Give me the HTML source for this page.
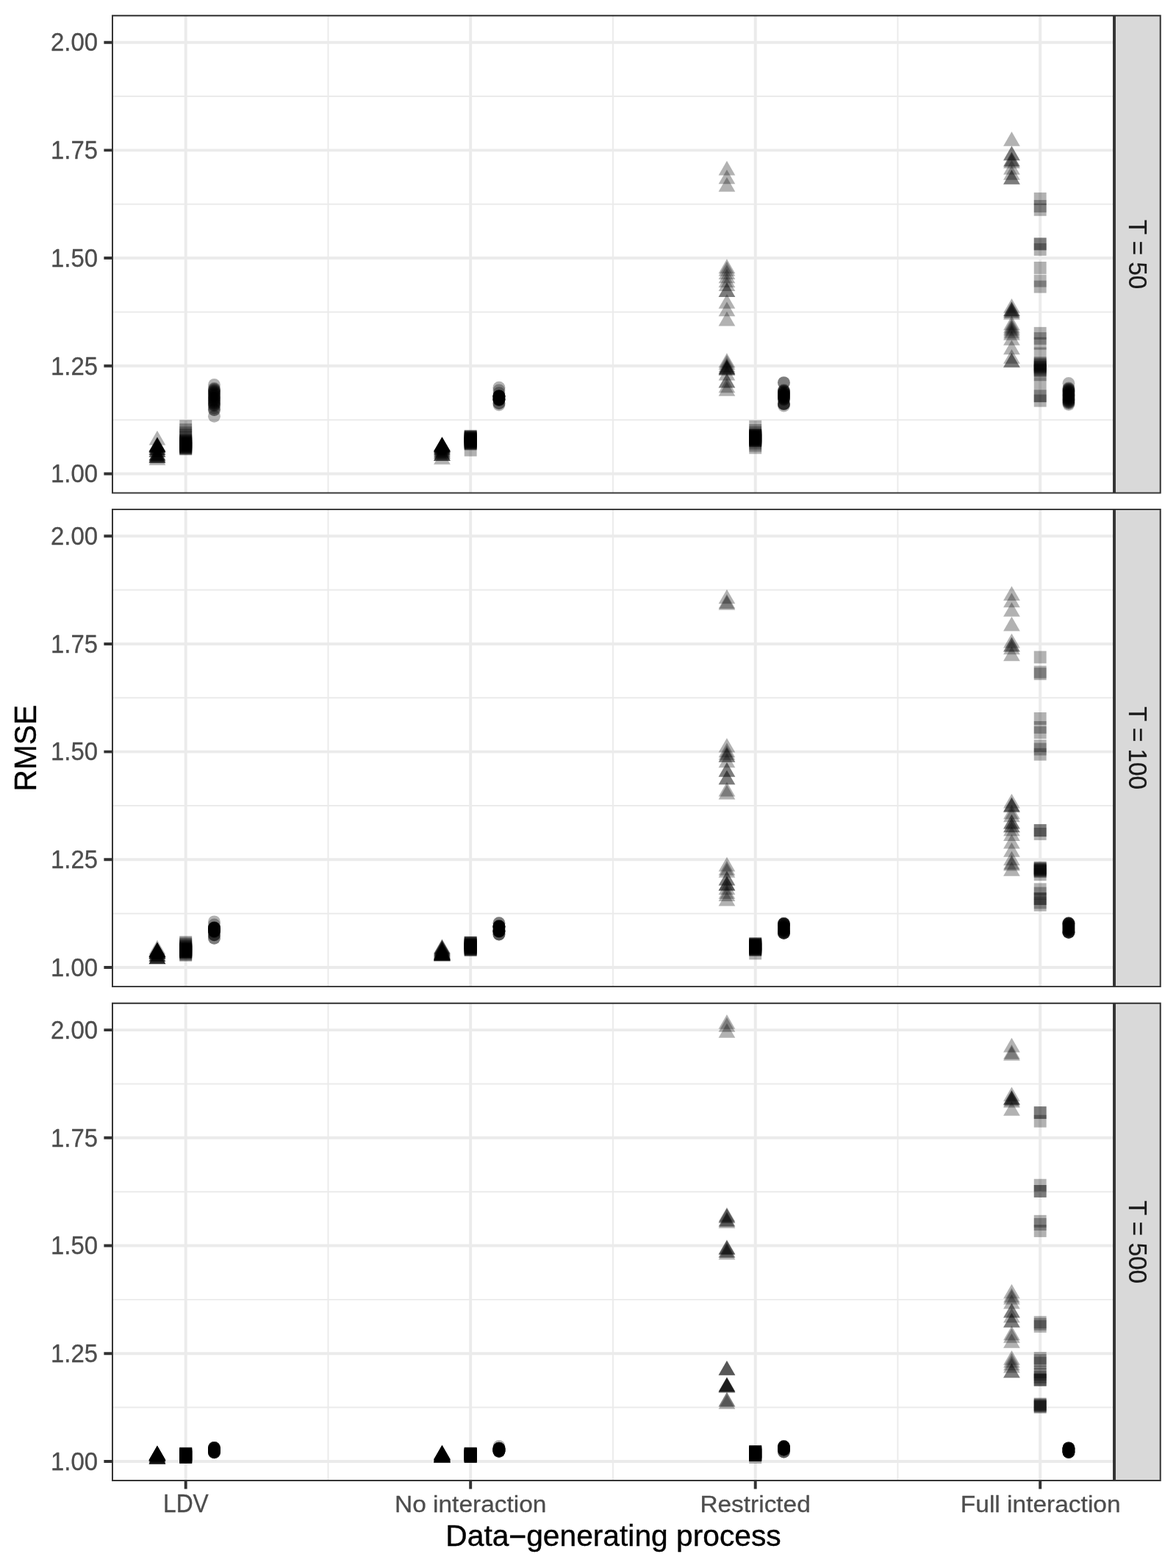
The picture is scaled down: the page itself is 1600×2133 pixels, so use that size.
<!DOCTYPE html>
<html lang="en"><head><meta charset="utf-8"><title>RMSE</title>
<style>
html,body{margin:0;padding:0;background:#fff}
body{width:1600px;height:2133px;overflow:hidden}
svg{display:block}
text{font-family:"Liberation Sans",Arial,Helvetica,sans-serif}
.at{font-size:32.59px;fill:#4d4d4d;stroke:#4d4d4d;stroke-width:0.3px;stroke-linejoin:round}
.st{font-size:32.59px;fill:#1a1a1a;stroke:#1a1a1a;stroke-width:0.2px;stroke-linejoin:round}
.ti{font-size:40.74px;fill:#000;stroke:#000;stroke-width:0.4px;stroke-linejoin:round}
.mn{stroke:#ebebeb;stroke-width:1.98;fill:none}
.mj{stroke:#ebebeb;stroke-width:3.95;fill:none}
.tk{stroke:#333;stroke-width:3.95;fill:none}
.bd{stroke:#333;stroke-width:3.95;fill:none}
.sb{stroke:#333;stroke-width:3.95;fill:#d9d9d9}
.p{fill:#000;fill-opacity:0.3}
</style></head><body>
<svg width="1600" height="2133" viewBox="0 0 1600 2133">
<rect width="1600" height="2133" fill="#fff"/>
<defs>
<clipPath id="c0"><rect x="152" y="20.37" width="1364" height="651.2"/></clipPath>
<clipPath id="s0"><rect x="1516" y="20.37" width="63.7" height="651.2"/></clipPath>
<clipPath id="c1"><rect x="152" y="691.9" width="1364" height="651.2"/></clipPath>
<clipPath id="s1"><rect x="1516" y="691.9" width="63.7" height="651.2"/></clipPath>
<clipPath id="c2"><rect x="152" y="1363.8" width="1364" height="651.2"/></clipPath>
<clipPath id="s2"><rect x="1516" y="1363.8" width="63.7" height="651.2"/></clipPath>
</defs>
<g clip-path="url(#c0)">
<path class="mn" d="M152 571.16H1516M152 424.45H1516M152 277.74H1516M152 131.03H1516M446.45 20.37V671.57M833.95 20.37V671.57M1221.45 20.37V671.57"/>
<path class="mj" d="M152 644.52H1516M152 497.81H1516M152 351.09H1516M152 204.38H1516M152 57.67H1516M252.7 20.37V671.57M640.2 20.37V671.57M1027.7 20.37V671.57M1415.2 20.37V671.57"/>
<g class="p">
<path d="M213.95 585.87l11.37 19.7h-22.74z"/>
<path d="M213.95 594.47l11.37 19.7h-22.74z"/>
<path d="M213.95 594.47l11.37 19.7h-22.74z"/>
<path d="M213.95 594.47l11.37 19.7h-22.74z"/>
<path d="M213.95 595.17l11.37 19.7h-22.74z"/>
<path d="M213.95 595.17l11.37 19.7h-22.74z"/>
<path d="M213.95 595.17l11.37 19.7h-22.74z"/>
<path d="M213.95 595.17l11.37 19.7h-22.74z"/>
<path d="M213.95 596.57l11.37 19.7h-22.74z"/>
<path d="M213.95 596.57l11.37 19.7h-22.74z"/>
<path d="M213.95 596.57l11.37 19.7h-22.74z"/>
<path d="M213.95 599.37l11.37 19.7h-22.74z"/>
<path d="M213.95 599.37l11.37 19.7h-22.74z"/>
<path d="M213.95 599.37l11.37 19.7h-22.74z"/>
<path d="M213.95 601.97l11.37 19.7h-22.74z"/>
<path d="M213.95 601.97l11.37 19.7h-22.74z"/>
<path d="M213.95 601.97l11.37 19.7h-22.74z"/>
<path d="M213.95 606.47l11.37 19.7h-22.74z"/>
<path d="M213.95 606.47l11.37 19.7h-22.74z"/>
<path d="M213.95 606.47l11.37 19.7h-22.74z"/>
<path d="M213.95 608.17l11.37 19.7h-22.74z"/>
<path d="M213.95 608.17l11.37 19.7h-22.74z"/>
<path d="M213.95 610.07l11.37 19.7h-22.74z"/>
<path d="M213.95 610.07l11.37 19.7h-22.74z"/>
<path d="M213.95 610.07l11.37 19.7h-22.74z"/>
<path d="M213.95 610.07l11.37 19.7h-22.74z"/>
<path d="M213.95 613.17l11.37 19.7h-22.74z"/>
<path d="M601.45 594.17l11.37 19.7h-22.74z"/>
<path d="M601.45 594.17l11.37 19.7h-22.74z"/>
<path d="M601.45 594.17l11.37 19.7h-22.74z"/>
<path d="M601.45 594.17l11.37 19.7h-22.74z"/>
<path d="M601.45 594.87l11.37 19.7h-22.74z"/>
<path d="M601.45 594.87l11.37 19.7h-22.74z"/>
<path d="M601.45 594.87l11.37 19.7h-22.74z"/>
<path d="M601.45 594.87l11.37 19.7h-22.74z"/>
<path d="M601.45 594.87l11.37 19.7h-22.74z"/>
<path d="M601.45 596.07l11.37 19.7h-22.74z"/>
<path d="M601.45 596.07l11.37 19.7h-22.74z"/>
<path d="M601.45 596.07l11.37 19.7h-22.74z"/>
<path d="M601.45 597.87l11.37 19.7h-22.74z"/>
<path d="M601.45 597.87l11.37 19.7h-22.74z"/>
<path d="M601.45 597.87l11.37 19.7h-22.74z"/>
<path d="M601.45 599.87l11.37 19.7h-22.74z"/>
<path d="M601.45 599.87l11.37 19.7h-22.74z"/>
<path d="M601.45 599.87l11.37 19.7h-22.74z"/>
<path d="M601.45 602.37l11.37 19.7h-22.74z"/>
<path d="M601.45 602.37l11.37 19.7h-22.74z"/>
<path d="M601.45 604.37l11.37 19.7h-22.74z"/>
<path d="M601.45 604.37l11.37 19.7h-22.74z"/>
<path d="M601.45 607.07l11.37 19.7h-22.74z"/>
<path d="M601.45 607.07l11.37 19.7h-22.74z"/>
<path d="M601.45 607.07l11.37 19.7h-22.74z"/>
<path d="M601.45 607.07l11.37 19.7h-22.74z"/>
<path d="M601.45 611.97l11.37 19.7h-22.74z"/>
<path d="M988.95 218.77l11.37 19.7h-22.74z"/>
<path d="M988.95 230.67l11.37 19.7h-22.74z"/>
<path d="M988.95 240.97l11.37 19.7h-22.74z"/>
<path d="M988.95 352.27l11.37 19.7h-22.74z"/>
<path d="M988.95 355.87l11.37 19.7h-22.74z"/>
<path d="M988.95 360.27l11.37 19.7h-22.74z"/>
<path d="M988.95 365.67l11.37 19.7h-22.74z"/>
<path d="M988.95 371.37l11.37 19.7h-22.74z"/>
<path d="M988.95 376.27l11.37 19.7h-22.74z"/>
<path d="M988.95 384.27l11.37 19.7h-22.74z"/>
<path d="M988.95 384.27l11.37 19.7h-22.74z"/>
<path d="M988.95 399.97l11.37 19.7h-22.74z"/>
<path d="M988.95 410.57l11.37 19.7h-22.74z"/>
<path d="M988.95 423.77l11.37 19.7h-22.74z"/>
<path d="M988.95 480.27l11.37 19.7h-22.74z"/>
<path d="M988.95 483.07l11.37 19.7h-22.74z"/>
<path d="M988.95 486.67l11.37 19.7h-22.74z"/>
<path d="M988.95 488.52l11.37 19.7h-22.74z"/>
<path d="M988.95 489.27l11.37 19.7h-22.74z"/>
<path d="M988.95 490.07l11.37 19.7h-22.74z"/>
<path d="M988.95 490.57l11.37 19.7h-22.74z"/>
<path d="M988.95 491.07l11.37 19.7h-22.74z"/>
<path d="M988.95 497.77l11.37 19.7h-22.74z"/>
<path d="M988.95 507.87l11.37 19.7h-22.74z"/>
<path d="M988.95 507.87l11.37 19.7h-22.74z"/>
<path d="M988.95 514.57l11.37 19.7h-22.74z"/>
<path d="M988.95 519.17l11.37 19.7h-22.74z"/>
<path d="M1376.45 178.97l11.37 19.7h-22.74z"/>
<path d="M1376.45 198.47l11.37 19.7h-22.74z"/>
<path d="M1376.45 198.47l11.37 19.7h-22.74z"/>
<path d="M1376.45 206.77l11.37 19.7h-22.74z"/>
<path d="M1376.45 206.77l11.37 19.7h-22.74z"/>
<path d="M1376.45 209.27l11.37 19.7h-22.74z"/>
<path d="M1376.45 217.87l11.37 19.7h-22.74z"/>
<path d="M1376.45 224.97l11.37 19.7h-22.74z"/>
<path d="M1376.45 230.97l11.37 19.7h-22.74z"/>
<path d="M1376.45 230.97l11.37 19.7h-22.74z"/>
<path d="M1376.45 406.02l11.37 19.7h-22.74z"/>
<path d="M1376.45 410.27l11.37 19.7h-22.74z"/>
<path d="M1376.45 410.27l11.37 19.7h-22.74z"/>
<path d="M1376.45 411.87l11.37 19.7h-22.74z"/>
<path d="M1376.45 412.97l11.37 19.7h-22.74z"/>
<path d="M1376.45 415.17l11.37 19.7h-22.74z"/>
<path d="M1376.45 429.57l11.37 19.7h-22.74z"/>
<path d="M1376.45 433.12l11.37 19.7h-22.74z"/>
<path d="M1376.45 435.57l11.37 19.7h-22.74z"/>
<path d="M1376.45 437.77l11.37 19.7h-22.74z"/>
<path d="M1376.45 440.47l11.37 19.7h-22.74z"/>
<path d="M1376.45 443.07l11.37 19.7h-22.74z"/>
<path d="M1376.45 450.17l11.37 19.7h-22.74z"/>
<path d="M1376.45 462.57l11.37 19.7h-22.74z"/>
<path d="M1376.45 474.97l11.37 19.7h-22.74z"/>
<path d="M1376.45 480.17l11.37 19.7h-22.74z"/>
<path d="M1376.45 480.17l11.37 19.7h-22.74z"/>
<rect x="244.25" y="571.25" width="16.9" height="16.9"/>
<rect x="244.25" y="576.15" width="16.9" height="16.9"/>
<rect x="244.25" y="580.25" width="16.9" height="16.9"/>
<rect x="244.25" y="583.25" width="16.9" height="16.9"/>
<rect x="244.25" y="587.05" width="16.9" height="16.9"/>
<rect x="244.25" y="590.05" width="16.9" height="16.9"/>
<rect x="244.25" y="591.55" width="16.9" height="16.9"/>
<rect x="244.25" y="592.09" width="16.9" height="16.9"/>
<rect x="244.25" y="592.64" width="16.9" height="16.9"/>
<rect x="244.25" y="593.18" width="16.9" height="16.9"/>
<rect x="244.25" y="593.73" width="16.9" height="16.9"/>
<rect x="244.25" y="594.27" width="16.9" height="16.9"/>
<rect x="244.25" y="594.82" width="16.9" height="16.9"/>
<rect x="244.25" y="595.36" width="16.9" height="16.9"/>
<rect x="244.25" y="595.91" width="16.9" height="16.9"/>
<rect x="244.25" y="596.45" width="16.9" height="16.9"/>
<rect x="244.25" y="597" width="16.9" height="16.9"/>
<rect x="244.25" y="597.54" width="16.9" height="16.9"/>
<rect x="244.25" y="598.09" width="16.9" height="16.9"/>
<rect x="244.25" y="598.63" width="16.9" height="16.9"/>
<rect x="244.25" y="599.18" width="16.9" height="16.9"/>
<rect x="244.25" y="599.72" width="16.9" height="16.9"/>
<rect x="244.25" y="600.27" width="16.9" height="16.9"/>
<rect x="244.25" y="600.81" width="16.9" height="16.9"/>
<rect x="244.25" y="601.36" width="16.9" height="16.9"/>
<rect x="244.25" y="601.9" width="16.9" height="16.9"/>
<rect x="244.25" y="602.45" width="16.9" height="16.9"/>
<rect x="631.75" y="584.75" width="16.9" height="16.9"/>
<rect x="631.75" y="585.19" width="16.9" height="16.9"/>
<rect x="631.75" y="585.62" width="16.9" height="16.9"/>
<rect x="631.75" y="586.06" width="16.9" height="16.9"/>
<rect x="631.75" y="586.49" width="16.9" height="16.9"/>
<rect x="631.75" y="586.93" width="16.9" height="16.9"/>
<rect x="631.75" y="587.37" width="16.9" height="16.9"/>
<rect x="631.75" y="587.8" width="16.9" height="16.9"/>
<rect x="631.75" y="588.24" width="16.9" height="16.9"/>
<rect x="631.75" y="588.67" width="16.9" height="16.9"/>
<rect x="631.75" y="589.11" width="16.9" height="16.9"/>
<rect x="631.75" y="589.55" width="16.9" height="16.9"/>
<rect x="631.75" y="589.98" width="16.9" height="16.9"/>
<rect x="631.75" y="590.42" width="16.9" height="16.9"/>
<rect x="631.75" y="590.85" width="16.9" height="16.9"/>
<rect x="631.75" y="591.29" width="16.9" height="16.9"/>
<rect x="631.75" y="591.73" width="16.9" height="16.9"/>
<rect x="631.75" y="592.16" width="16.9" height="16.9"/>
<rect x="631.75" y="592.6" width="16.9" height="16.9"/>
<rect x="631.75" y="593.03" width="16.9" height="16.9"/>
<rect x="631.75" y="593.47" width="16.9" height="16.9"/>
<rect x="631.75" y="593.91" width="16.9" height="16.9"/>
<rect x="631.75" y="594.34" width="16.9" height="16.9"/>
<rect x="631.75" y="594.78" width="16.9" height="16.9"/>
<rect x="631.75" y="595.21" width="16.9" height="16.9"/>
<rect x="631.75" y="595.65" width="16.9" height="16.9"/>
<rect x="631.75" y="603.85" width="16.9" height="16.9"/>
<rect x="1019.25" y="571.8" width="16.9" height="16.9"/>
<rect x="1019.25" y="577" width="16.9" height="16.9"/>
<rect x="1019.25" y="580.05" width="16.9" height="16.9"/>
<rect x="1019.25" y="583.05" width="16.9" height="16.9"/>
<rect x="1019.25" y="583.48" width="16.9" height="16.9"/>
<rect x="1019.25" y="583.9" width="16.9" height="16.9"/>
<rect x="1019.25" y="584.33" width="16.9" height="16.9"/>
<rect x="1019.25" y="584.76" width="16.9" height="16.9"/>
<rect x="1019.25" y="585.19" width="16.9" height="16.9"/>
<rect x="1019.25" y="585.61" width="16.9" height="16.9"/>
<rect x="1019.25" y="586.04" width="16.9" height="16.9"/>
<rect x="1019.25" y="586.47" width="16.9" height="16.9"/>
<rect x="1019.25" y="586.9" width="16.9" height="16.9"/>
<rect x="1019.25" y="587.32" width="16.9" height="16.9"/>
<rect x="1019.25" y="587.75" width="16.9" height="16.9"/>
<rect x="1019.25" y="588.18" width="16.9" height="16.9"/>
<rect x="1019.25" y="588.61" width="16.9" height="16.9"/>
<rect x="1019.25" y="589.03" width="16.9" height="16.9"/>
<rect x="1019.25" y="589.46" width="16.9" height="16.9"/>
<rect x="1019.25" y="589.89" width="16.9" height="16.9"/>
<rect x="1019.25" y="590.32" width="16.9" height="16.9"/>
<rect x="1019.25" y="590.74" width="16.9" height="16.9"/>
<rect x="1019.25" y="591.17" width="16.9" height="16.9"/>
<rect x="1019.25" y="591.6" width="16.9" height="16.9"/>
<rect x="1019.25" y="594.55" width="16.9" height="16.9"/>
<rect x="1019.25" y="597.6" width="16.9" height="16.9"/>
<rect x="1019.25" y="600.6" width="16.9" height="16.9"/>
<rect x="1406.75" y="261.85" width="16.9" height="16.9"/>
<rect x="1406.75" y="272.05" width="16.9" height="16.9"/>
<rect x="1406.75" y="276.85" width="16.9" height="16.9"/>
<rect x="1406.75" y="323.45" width="16.9" height="16.9"/>
<rect x="1406.75" y="323.45" width="16.9" height="16.9"/>
<rect x="1406.75" y="330.95" width="16.9" height="16.9"/>
<rect x="1406.75" y="355.95" width="16.9" height="16.9"/>
<rect x="1406.75" y="373.65" width="16.9" height="16.9"/>
<rect x="1406.75" y="381.65" width="16.9" height="16.9"/>
<rect x="1406.75" y="444.85" width="16.9" height="16.9"/>
<rect x="1406.75" y="451.95" width="16.9" height="16.9"/>
<rect x="1406.75" y="458.75" width="16.9" height="16.9"/>
<rect x="1406.75" y="472.5" width="16.9" height="16.9"/>
<rect x="1406.75" y="485.25" width="16.9" height="16.9"/>
<rect x="1406.75" y="486.75" width="16.9" height="16.9"/>
<rect x="1406.75" y="488.25" width="16.9" height="16.9"/>
<rect x="1406.75" y="489.35" width="16.9" height="16.9"/>
<rect x="1406.75" y="490.5" width="16.9" height="16.9"/>
<rect x="1406.75" y="491.65" width="16.9" height="16.9"/>
<rect x="1406.75" y="493.85" width="16.9" height="16.9"/>
<rect x="1406.75" y="495.35" width="16.9" height="16.9"/>
<rect x="1406.75" y="496.15" width="16.9" height="16.9"/>
<rect x="1406.75" y="501.35" width="16.9" height="16.9"/>
<rect x="1406.75" y="513.35" width="16.9" height="16.9"/>
<rect x="1406.75" y="530.25" width="16.9" height="16.9"/>
<rect x="1406.75" y="530.25" width="16.9" height="16.9"/>
<rect x="1406.75" y="536.65" width="16.9" height="16.9"/>
<circle cx="291.45" cy="523.5" r="8.45"/>
<circle cx="291.45" cy="528.4" r="8.45"/>
<circle cx="291.45" cy="529.52" r="8.45"/>
<circle cx="291.45" cy="530.65" r="8.45"/>
<circle cx="291.45" cy="531.77" r="8.45"/>
<circle cx="291.45" cy="532.9" r="8.45"/>
<circle cx="291.45" cy="534.02" r="8.45"/>
<circle cx="291.45" cy="535.14" r="8.45"/>
<circle cx="291.45" cy="536.27" r="8.45"/>
<circle cx="291.45" cy="537.39" r="8.45"/>
<circle cx="291.45" cy="538.51" r="8.45"/>
<circle cx="291.45" cy="539.64" r="8.45"/>
<circle cx="291.45" cy="540.76" r="8.45"/>
<circle cx="291.45" cy="541.89" r="8.45"/>
<circle cx="291.45" cy="543.01" r="8.45"/>
<circle cx="291.45" cy="544.13" r="8.45"/>
<circle cx="291.45" cy="545.26" r="8.45"/>
<circle cx="291.45" cy="546.38" r="8.45"/>
<circle cx="291.45" cy="547.5" r="8.45"/>
<circle cx="291.45" cy="548.63" r="8.45"/>
<circle cx="291.45" cy="549.75" r="8.45"/>
<circle cx="291.45" cy="550.88" r="8.45"/>
<circle cx="291.45" cy="552" r="8.45"/>
<circle cx="291.45" cy="555" r="8.45"/>
<circle cx="291.45" cy="557.6" r="8.45"/>
<circle cx="291.45" cy="557.6" r="8.45"/>
<circle cx="291.45" cy="566.2" r="8.45"/>
<circle cx="678.95" cy="527.2" r="8.45"/>
<circle cx="678.95" cy="531" r="8.45"/>
<circle cx="678.95" cy="534.7" r="8.45"/>
<circle cx="678.95" cy="538.6" r="8.45"/>
<circle cx="678.95" cy="538.6" r="8.45"/>
<circle cx="678.95" cy="538.6" r="8.45"/>
<circle cx="678.95" cy="539.3" r="8.45"/>
<circle cx="678.95" cy="539.3" r="8.45"/>
<circle cx="678.95" cy="539.3" r="8.45"/>
<circle cx="678.95" cy="539.3" r="8.45"/>
<circle cx="678.95" cy="539.3" r="8.45"/>
<circle cx="678.95" cy="539.3" r="8.45"/>
<circle cx="678.95" cy="540" r="8.45"/>
<circle cx="678.95" cy="540.83" r="8.45"/>
<circle cx="678.95" cy="541.67" r="8.45"/>
<circle cx="678.95" cy="542.5" r="8.45"/>
<circle cx="678.95" cy="543.3" r="8.45"/>
<circle cx="678.95" cy="543.3" r="8.45"/>
<circle cx="678.95" cy="543.3" r="8.45"/>
<circle cx="678.95" cy="543.3" r="8.45"/>
<circle cx="678.95" cy="543.3" r="8.45"/>
<circle cx="678.95" cy="543.3" r="8.45"/>
<circle cx="678.95" cy="544.2" r="8.45"/>
<circle cx="678.95" cy="544.2" r="8.45"/>
<circle cx="678.95" cy="548.5" r="8.45"/>
<circle cx="678.95" cy="548.5" r="8.45"/>
<circle cx="678.95" cy="550.8" r="8.45"/>
<circle cx="1066.45" cy="520.6" r="8.45"/>
<circle cx="1066.45" cy="520.6" r="8.45"/>
<circle cx="1066.45" cy="530.7" r="8.45"/>
<circle cx="1066.45" cy="531.39" r="8.45"/>
<circle cx="1066.45" cy="532.08" r="8.45"/>
<circle cx="1066.45" cy="532.77" r="8.45"/>
<circle cx="1066.45" cy="533.46" r="8.45"/>
<circle cx="1066.45" cy="534.15" r="8.45"/>
<circle cx="1066.45" cy="534.84" r="8.45"/>
<circle cx="1066.45" cy="535.53" r="8.45"/>
<circle cx="1066.45" cy="536.22" r="8.45"/>
<circle cx="1066.45" cy="536.91" r="8.45"/>
<circle cx="1066.45" cy="537.59" r="8.45"/>
<circle cx="1066.45" cy="538.28" r="8.45"/>
<circle cx="1066.45" cy="538.97" r="8.45"/>
<circle cx="1066.45" cy="539.66" r="8.45"/>
<circle cx="1066.45" cy="540.35" r="8.45"/>
<circle cx="1066.45" cy="541.04" r="8.45"/>
<circle cx="1066.45" cy="541.73" r="8.45"/>
<circle cx="1066.45" cy="542.42" r="8.45"/>
<circle cx="1066.45" cy="543.11" r="8.45"/>
<circle cx="1066.45" cy="543.8" r="8.45"/>
<circle cx="1066.45" cy="549.4" r="8.45"/>
<circle cx="1066.45" cy="549.4" r="8.45"/>
<circle cx="1066.45" cy="549.4" r="8.45"/>
<circle cx="1066.45" cy="549.4" r="8.45"/>
<circle cx="1066.45" cy="552.05" r="8.45"/>
<circle cx="1453.95" cy="521.5" r="8.45"/>
<circle cx="1453.95" cy="528" r="8.45"/>
<circle cx="1453.95" cy="528.85" r="8.45"/>
<circle cx="1453.95" cy="529.71" r="8.45"/>
<circle cx="1453.95" cy="530.56" r="8.45"/>
<circle cx="1453.95" cy="531.42" r="8.45"/>
<circle cx="1453.95" cy="532.27" r="8.45"/>
<circle cx="1453.95" cy="533.12" r="8.45"/>
<circle cx="1453.95" cy="533.98" r="8.45"/>
<circle cx="1453.95" cy="534.83" r="8.45"/>
<circle cx="1453.95" cy="535.69" r="8.45"/>
<circle cx="1453.95" cy="536.54" r="8.45"/>
<circle cx="1453.95" cy="537.4" r="8.45"/>
<circle cx="1453.95" cy="538.25" r="8.45"/>
<circle cx="1453.95" cy="539.1" r="8.45"/>
<circle cx="1453.95" cy="539.96" r="8.45"/>
<circle cx="1453.95" cy="540.81" r="8.45"/>
<circle cx="1453.95" cy="541.67" r="8.45"/>
<circle cx="1453.95" cy="542.52" r="8.45"/>
<circle cx="1453.95" cy="543.38" r="8.45"/>
<circle cx="1453.95" cy="544.23" r="8.45"/>
<circle cx="1453.95" cy="545.08" r="8.45"/>
<circle cx="1453.95" cy="545.94" r="8.45"/>
<circle cx="1453.95" cy="546.79" r="8.45"/>
<circle cx="1453.95" cy="547.65" r="8.45"/>
<circle cx="1453.95" cy="548.5" r="8.45"/>
<circle cx="1453.95" cy="550.25" r="8.45"/>
</g>
<rect class="bd" x="152" y="20.37" width="1364" height="651.2"/>
</g>
<g clip-path="url(#s0)">
<rect class="sb" x="1516" y="20.37" width="63.7" height="651.2"/>
</g>
<text class="st" text-anchor="middle" transform="translate(1535.7 345.97) rotate(90) scale(1.02 1.055)">T = 50</text>
<path class="tk" d="M141.4 644.52H152M141.4 497.81H152M141.4 351.09H152M141.4 204.38H152M141.4 57.67H152"/>
<text class="at" text-anchor="end" transform="translate(133.1 69.47) scale(1.01 1.055)">2.00</text>
<text class="at" text-anchor="end" transform="translate(133.1 216.18) scale(1.01 1.055)">1.75</text>
<text class="at" text-anchor="end" transform="translate(133.1 362.89) scale(1.01 1.055)">1.50</text>
<text class="at" text-anchor="end" transform="translate(133.1 509.61) scale(1.01 1.055)">1.25</text>
<text class="at" text-anchor="end" transform="translate(133.1 656.32) scale(1.01 1.055)">1.00</text>
<g clip-path="url(#c1)">
<path class="mn" d="M152 1242.69H1516M152 1095.98H1516M152 949.27H1516M152 802.56H1516M446.45 691.9V1343.1M833.95 691.9V1343.1M1221.45 691.9V1343.1"/>
<path class="mj" d="M152 1316.05H1516M152 1169.34H1516M152 1022.62H1516M152 875.91H1516M152 729.2H1516M252.7 691.9V1343.1M640.2 691.9V1343.1M1027.7 691.9V1343.1M1415.2 691.9V1343.1"/>
<g class="p">
<path d="M213.95 1278.77l11.37 19.7h-22.74z"/>
<path d="M213.95 1281.77l11.37 19.7h-22.74z"/>
<path d="M213.95 1281.77l11.37 19.7h-22.74z"/>
<path d="M213.95 1281.77l11.37 19.7h-22.74z"/>
<path d="M213.95 1281.77l11.37 19.7h-22.74z"/>
<path d="M213.95 1281.77l11.37 19.7h-22.74z"/>
<path d="M213.95 1282.67l11.37 19.7h-22.74z"/>
<path d="M213.95 1282.67l11.37 19.7h-22.74z"/>
<path d="M213.95 1282.67l11.37 19.7h-22.74z"/>
<path d="M213.95 1282.67l11.37 19.7h-22.74z"/>
<path d="M213.95 1282.67l11.37 19.7h-22.74z"/>
<path d="M213.95 1283.87l11.37 19.7h-22.74z"/>
<path d="M213.95 1283.87l11.37 19.7h-22.74z"/>
<path d="M213.95 1283.87l11.37 19.7h-22.74z"/>
<path d="M213.95 1283.87l11.37 19.7h-22.74z"/>
<path d="M213.95 1285.37l11.37 19.7h-22.74z"/>
<path d="M213.95 1285.37l11.37 19.7h-22.74z"/>
<path d="M213.95 1285.37l11.37 19.7h-22.74z"/>
<path d="M213.95 1288.37l11.37 19.7h-22.74z"/>
<path d="M213.95 1288.37l11.37 19.7h-22.74z"/>
<path d="M213.95 1288.37l11.37 19.7h-22.74z"/>
<path d="M213.95 1288.37l11.37 19.7h-22.74z"/>
<path d="M213.95 1291.67l11.37 19.7h-22.74z"/>
<path d="M213.95 1291.67l11.37 19.7h-22.74z"/>
<path d="M213.95 1291.67l11.37 19.7h-22.74z"/>
<path d="M213.95 1291.67l11.37 19.7h-22.74z"/>
<path d="M213.95 1291.67l11.37 19.7h-22.74z"/>
<path d="M601.45 1277.27l11.37 19.7h-22.74z"/>
<path d="M601.45 1277.96l11.37 19.7h-22.74z"/>
<path d="M601.45 1278.65l11.37 19.7h-22.74z"/>
<path d="M601.45 1279.34l11.37 19.7h-22.74z"/>
<path d="M601.45 1280.03l11.37 19.7h-22.74z"/>
<path d="M601.45 1280.72l11.37 19.7h-22.74z"/>
<path d="M601.45 1281.42l11.37 19.7h-22.74z"/>
<path d="M601.45 1282.11l11.37 19.7h-22.74z"/>
<path d="M601.45 1282.8l11.37 19.7h-22.74z"/>
<path d="M601.45 1283.49l11.37 19.7h-22.74z"/>
<path d="M601.45 1284.18l11.37 19.7h-22.74z"/>
<path d="M601.45 1284.87l11.37 19.7h-22.74z"/>
<path d="M601.45 1285.37l11.37 19.7h-22.74z"/>
<path d="M601.45 1285.56l11.37 19.7h-22.74z"/>
<path d="M601.45 1285.74l11.37 19.7h-22.74z"/>
<path d="M601.45 1285.93l11.37 19.7h-22.74z"/>
<path d="M601.45 1286.11l11.37 19.7h-22.74z"/>
<path d="M601.45 1286.3l11.37 19.7h-22.74z"/>
<path d="M601.45 1286.48l11.37 19.7h-22.74z"/>
<path d="M601.45 1286.67l11.37 19.7h-22.74z"/>
<path d="M601.45 1286.86l11.37 19.7h-22.74z"/>
<path d="M601.45 1287.04l11.37 19.7h-22.74z"/>
<path d="M601.45 1287.23l11.37 19.7h-22.74z"/>
<path d="M601.45 1287.41l11.37 19.7h-22.74z"/>
<path d="M601.45 1287.6l11.37 19.7h-22.74z"/>
<path d="M601.45 1287.78l11.37 19.7h-22.74z"/>
<path d="M601.45 1287.97l11.37 19.7h-22.74z"/>
<path d="M988.95 801.67l11.37 19.7h-22.74z"/>
<path d="M988.95 808.27l11.37 19.7h-22.74z"/>
<path d="M988.95 810.07l11.37 19.7h-22.74z"/>
<path d="M988.95 1003.92l11.37 19.7h-22.74z"/>
<path d="M988.95 1010.62l11.37 19.7h-22.74z"/>
<path d="M988.95 1014.17l11.37 19.7h-22.74z"/>
<path d="M988.95 1016.97l11.37 19.7h-22.74z"/>
<path d="M988.95 1016.97l11.37 19.7h-22.74z"/>
<path d="M988.95 1024.47l11.37 19.7h-22.74z"/>
<path d="M988.95 1037.07l11.37 19.7h-22.74z"/>
<path d="M988.95 1037.07l11.37 19.7h-22.74z"/>
<path d="M988.95 1047.67l11.37 19.7h-22.74z"/>
<path d="M988.95 1047.67l11.37 19.7h-22.74z"/>
<path d="M988.95 1063.87l11.37 19.7h-22.74z"/>
<path d="M988.95 1067.77l11.37 19.7h-22.74z"/>
<path d="M988.95 1165.87l11.37 19.7h-22.74z"/>
<path d="M988.95 1171.07l11.37 19.7h-22.74z"/>
<path d="M988.95 1174.17l11.37 19.7h-22.74z"/>
<path d="M988.95 1184.72l11.37 19.7h-22.74z"/>
<path d="M988.95 1184.72l11.37 19.7h-22.74z"/>
<path d="M988.95 1191.92l11.37 19.7h-22.74z"/>
<path d="M988.95 1191.92l11.37 19.7h-22.74z"/>
<path d="M988.95 1191.92l11.37 19.7h-22.74z"/>
<path d="M988.95 1197.37l11.37 19.7h-22.74z"/>
<path d="M988.95 1203.02l11.37 19.7h-22.74z"/>
<path d="M988.95 1206.37l11.37 19.7h-22.74z"/>
<path d="M988.95 1212.82l11.37 19.7h-22.74z"/>
<path d="M1376.45 797.27l11.37 19.7h-22.74z"/>
<path d="M1376.45 806.47l11.37 19.7h-22.74z"/>
<path d="M1376.45 819.17l11.37 19.7h-22.74z"/>
<path d="M1376.45 838.77l11.37 19.7h-22.74z"/>
<path d="M1376.45 861.77l11.37 19.7h-22.74z"/>
<path d="M1376.45 866.82l11.37 19.7h-22.74z"/>
<path d="M1376.45 866.82l11.37 19.7h-22.74z"/>
<path d="M1376.45 870.57l11.37 19.7h-22.74z"/>
<path d="M1376.45 879.57l11.37 19.7h-22.74z"/>
<path d="M1376.45 1079.84l11.37 19.7h-22.74z"/>
<path d="M1376.45 1084.57l11.37 19.7h-22.74z"/>
<path d="M1376.45 1084.57l11.37 19.7h-22.74z"/>
<path d="M1376.45 1085.67l11.37 19.7h-22.74z"/>
<path d="M1376.45 1094.67l11.37 19.7h-22.74z"/>
<path d="M1376.45 1098.47l11.37 19.7h-22.74z"/>
<path d="M1376.45 1107.82l11.37 19.7h-22.74z"/>
<path d="M1376.45 1107.82l11.37 19.7h-22.74z"/>
<path d="M1376.45 1112.67l11.37 19.7h-22.74z"/>
<path d="M1376.45 1112.67l11.37 19.7h-22.74z"/>
<path d="M1376.45 1117.57l11.37 19.7h-22.74z"/>
<path d="M1376.45 1124.32l11.37 19.7h-22.74z"/>
<path d="M1376.45 1134.82l11.37 19.7h-22.74z"/>
<path d="M1376.45 1146.07l11.37 19.7h-22.74z"/>
<path d="M1376.45 1157.67l11.37 19.7h-22.74z"/>
<path d="M1376.45 1162.97l11.37 19.7h-22.74z"/>
<path d="M1376.45 1164.82l11.37 19.7h-22.74z"/>
<path d="M1376.45 1171.97l11.37 19.7h-22.74z"/>
<rect x="244.25" y="1273.15" width="16.9" height="16.9"/>
<rect x="244.25" y="1274.65" width="16.9" height="16.9"/>
<rect x="244.25" y="1276.15" width="16.9" height="16.9"/>
<rect x="244.25" y="1277.65" width="16.9" height="16.9"/>
<rect x="244.25" y="1278.75" width="16.9" height="16.9"/>
<rect x="244.25" y="1279.85" width="16.9" height="16.9"/>
<rect x="244.25" y="1281.05" width="16.9" height="16.9"/>
<rect x="244.25" y="1281.75" width="16.9" height="16.9"/>
<rect x="244.25" y="1282.55" width="16.9" height="16.9"/>
<rect x="244.25" y="1282.87" width="16.9" height="16.9"/>
<rect x="244.25" y="1283.19" width="16.9" height="16.9"/>
<rect x="244.25" y="1283.51" width="16.9" height="16.9"/>
<rect x="244.25" y="1283.83" width="16.9" height="16.9"/>
<rect x="244.25" y="1284.15" width="16.9" height="16.9"/>
<rect x="244.25" y="1284.47" width="16.9" height="16.9"/>
<rect x="244.25" y="1284.79" width="16.9" height="16.9"/>
<rect x="244.25" y="1285.11" width="16.9" height="16.9"/>
<rect x="244.25" y="1285.43" width="16.9" height="16.9"/>
<rect x="244.25" y="1285.75" width="16.9" height="16.9"/>
<rect x="244.25" y="1286.07" width="16.9" height="16.9"/>
<rect x="244.25" y="1286.39" width="16.9" height="16.9"/>
<rect x="244.25" y="1286.71" width="16.9" height="16.9"/>
<rect x="244.25" y="1287.03" width="16.9" height="16.9"/>
<rect x="244.25" y="1287.35" width="16.9" height="16.9"/>
<rect x="244.25" y="1289.05" width="16.9" height="16.9"/>
<rect x="244.25" y="1290.05" width="16.9" height="16.9"/>
<rect x="244.25" y="1291.1" width="16.9" height="16.9"/>
<rect x="631.75" y="1273.9" width="16.9" height="16.9"/>
<rect x="631.75" y="1273.9" width="16.9" height="16.9"/>
<rect x="631.75" y="1273.9" width="16.9" height="16.9"/>
<rect x="631.75" y="1273.9" width="16.9" height="16.9"/>
<rect x="631.75" y="1275.55" width="16.9" height="16.9"/>
<rect x="631.75" y="1275.94" width="16.9" height="16.9"/>
<rect x="631.75" y="1276.33" width="16.9" height="16.9"/>
<rect x="631.75" y="1276.72" width="16.9" height="16.9"/>
<rect x="631.75" y="1277.11" width="16.9" height="16.9"/>
<rect x="631.75" y="1277.5" width="16.9" height="16.9"/>
<rect x="631.75" y="1277.9" width="16.9" height="16.9"/>
<rect x="631.75" y="1278.29" width="16.9" height="16.9"/>
<rect x="631.75" y="1278.68" width="16.9" height="16.9"/>
<rect x="631.75" y="1279.07" width="16.9" height="16.9"/>
<rect x="631.75" y="1279.46" width="16.9" height="16.9"/>
<rect x="631.75" y="1279.85" width="16.9" height="16.9"/>
<rect x="631.75" y="1280.24" width="16.9" height="16.9"/>
<rect x="631.75" y="1280.63" width="16.9" height="16.9"/>
<rect x="631.75" y="1281.02" width="16.9" height="16.9"/>
<rect x="631.75" y="1281.41" width="16.9" height="16.9"/>
<rect x="631.75" y="1281.8" width="16.9" height="16.9"/>
<rect x="631.75" y="1282.2" width="16.9" height="16.9"/>
<rect x="631.75" y="1282.59" width="16.9" height="16.9"/>
<rect x="631.75" y="1282.98" width="16.9" height="16.9"/>
<rect x="631.75" y="1283.37" width="16.9" height="16.9"/>
<rect x="631.75" y="1283.76" width="16.9" height="16.9"/>
<rect x="631.75" y="1284.15" width="16.9" height="16.9"/>
<rect x="1019.25" y="1275" width="16.9" height="16.9"/>
<rect x="1019.25" y="1275.36" width="16.9" height="16.9"/>
<rect x="1019.25" y="1275.72" width="16.9" height="16.9"/>
<rect x="1019.25" y="1276.08" width="16.9" height="16.9"/>
<rect x="1019.25" y="1276.44" width="16.9" height="16.9"/>
<rect x="1019.25" y="1276.8" width="16.9" height="16.9"/>
<rect x="1019.25" y="1277.16" width="16.9" height="16.9"/>
<rect x="1019.25" y="1277.52" width="16.9" height="16.9"/>
<rect x="1019.25" y="1277.88" width="16.9" height="16.9"/>
<rect x="1019.25" y="1278.24" width="16.9" height="16.9"/>
<rect x="1019.25" y="1278.6" width="16.9" height="16.9"/>
<rect x="1019.25" y="1278.96" width="16.9" height="16.9"/>
<rect x="1019.25" y="1279.32" width="16.9" height="16.9"/>
<rect x="1019.25" y="1279.68" width="16.9" height="16.9"/>
<rect x="1019.25" y="1280.04" width="16.9" height="16.9"/>
<rect x="1019.25" y="1280.4" width="16.9" height="16.9"/>
<rect x="1019.25" y="1280.76" width="16.9" height="16.9"/>
<rect x="1019.25" y="1281.12" width="16.9" height="16.9"/>
<rect x="1019.25" y="1281.48" width="16.9" height="16.9"/>
<rect x="1019.25" y="1281.84" width="16.9" height="16.9"/>
<rect x="1019.25" y="1282.2" width="16.9" height="16.9"/>
<rect x="1019.25" y="1282.56" width="16.9" height="16.9"/>
<rect x="1019.25" y="1282.92" width="16.9" height="16.9"/>
<rect x="1019.25" y="1283.28" width="16.9" height="16.9"/>
<rect x="1019.25" y="1283.64" width="16.9" height="16.9"/>
<rect x="1019.25" y="1284" width="16.9" height="16.9"/>
<rect x="1019.25" y="1288.5" width="16.9" height="16.9"/>
<rect x="1406.75" y="885.55" width="16.9" height="16.9"/>
<rect x="1406.75" y="905.65" width="16.9" height="16.9"/>
<rect x="1406.75" y="908.25" width="16.9" height="16.9"/>
<rect x="1406.75" y="969" width="16.9" height="16.9"/>
<rect x="1406.75" y="981" width="16.9" height="16.9"/>
<rect x="1406.75" y="988.15" width="16.9" height="16.9"/>
<rect x="1406.75" y="1006.15" width="16.9" height="16.9"/>
<rect x="1406.75" y="1010.65" width="16.9" height="16.9"/>
<rect x="1406.75" y="1017.75" width="16.9" height="16.9"/>
<rect x="1406.75" y="1121.15" width="16.9" height="16.9"/>
<rect x="1406.75" y="1121.15" width="16.9" height="16.9"/>
<rect x="1406.75" y="1126" width="16.9" height="16.9"/>
<rect x="1406.75" y="1171.75" width="16.9" height="16.9"/>
<rect x="1406.75" y="1172.55" width="16.9" height="16.9"/>
<rect x="1406.75" y="1173.35" width="16.9" height="16.9"/>
<rect x="1406.75" y="1174.15" width="16.9" height="16.9"/>
<rect x="1406.75" y="1174.95" width="16.9" height="16.9"/>
<rect x="1406.75" y="1175.75" width="16.9" height="16.9"/>
<rect x="1406.75" y="1176.55" width="16.9" height="16.9"/>
<rect x="1406.75" y="1177.35" width="16.9" height="16.9"/>
<rect x="1406.75" y="1181.15" width="16.9" height="16.9"/>
<rect x="1406.75" y="1201.35" width="16.9" height="16.9"/>
<rect x="1406.75" y="1206.65" width="16.9" height="16.9"/>
<rect x="1406.75" y="1214.15" width="16.9" height="16.9"/>
<rect x="1406.75" y="1214.15" width="16.9" height="16.9"/>
<rect x="1406.75" y="1219.35" width="16.9" height="16.9"/>
<rect x="1406.75" y="1222.75" width="16.9" height="16.9"/>
<circle cx="291.45" cy="1253.85" r="8.45"/>
<circle cx="291.45" cy="1258" r="8.45"/>
<circle cx="291.45" cy="1262" r="8.45"/>
<circle cx="291.45" cy="1262" r="8.45"/>
<circle cx="291.45" cy="1262" r="8.45"/>
<circle cx="291.45" cy="1262.6" r="8.45"/>
<circle cx="291.45" cy="1262.6" r="8.45"/>
<circle cx="291.45" cy="1262.6" r="8.45"/>
<circle cx="291.45" cy="1262.6" r="8.45"/>
<circle cx="291.45" cy="1262.6" r="8.45"/>
<circle cx="291.45" cy="1262.6" r="8.45"/>
<circle cx="291.45" cy="1263.5" r="8.45"/>
<circle cx="291.45" cy="1264.5" r="8.45"/>
<circle cx="291.45" cy="1265.5" r="8.45"/>
<circle cx="291.45" cy="1266.5" r="8.45"/>
<circle cx="291.45" cy="1266.5" r="8.45"/>
<circle cx="291.45" cy="1266.5" r="8.45"/>
<circle cx="291.45" cy="1266.5" r="8.45"/>
<circle cx="291.45" cy="1266.5" r="8.45"/>
<circle cx="291.45" cy="1266.5" r="8.45"/>
<circle cx="291.45" cy="1267.5" r="8.45"/>
<circle cx="291.45" cy="1267.5" r="8.45"/>
<circle cx="291.45" cy="1271.8" r="8.45"/>
<circle cx="291.45" cy="1271.8" r="8.45"/>
<circle cx="291.45" cy="1271.8" r="8.45"/>
<circle cx="291.45" cy="1276.3" r="8.45"/>
<circle cx="291.45" cy="1276.3" r="8.45"/>
<circle cx="678.95" cy="1255.7" r="8.45"/>
<circle cx="678.95" cy="1255.7" r="8.45"/>
<circle cx="678.95" cy="1259.8" r="8.45"/>
<circle cx="678.95" cy="1259.8" r="8.45"/>
<circle cx="678.95" cy="1259.8" r="8.45"/>
<circle cx="678.95" cy="1260.4" r="8.45"/>
<circle cx="678.95" cy="1260.4" r="8.45"/>
<circle cx="678.95" cy="1260.4" r="8.45"/>
<circle cx="678.95" cy="1260.4" r="8.45"/>
<circle cx="678.95" cy="1260.4" r="8.45"/>
<circle cx="678.95" cy="1260.4" r="8.45"/>
<circle cx="678.95" cy="1261.5" r="8.45"/>
<circle cx="678.95" cy="1262.5" r="8.45"/>
<circle cx="678.95" cy="1263.5" r="8.45"/>
<circle cx="678.95" cy="1264.5" r="8.45"/>
<circle cx="678.95" cy="1265.5" r="8.45"/>
<circle cx="678.95" cy="1266.5" r="8.45"/>
<circle cx="678.95" cy="1266.5" r="8.45"/>
<circle cx="678.95" cy="1266.5" r="8.45"/>
<circle cx="678.95" cy="1266.5" r="8.45"/>
<circle cx="678.95" cy="1266.5" r="8.45"/>
<circle cx="678.95" cy="1266.5" r="8.45"/>
<circle cx="678.95" cy="1267.3" r="8.45"/>
<circle cx="678.95" cy="1267.3" r="8.45"/>
<circle cx="678.95" cy="1271" r="8.45"/>
<circle cx="678.95" cy="1271" r="8.45"/>
<circle cx="678.95" cy="1271" r="8.45"/>
<circle cx="1066.45" cy="1256.5" r="8.45"/>
<circle cx="1066.45" cy="1256.5" r="8.45"/>
<circle cx="1066.45" cy="1256.5" r="8.45"/>
<circle cx="1066.45" cy="1256.5" r="8.45"/>
<circle cx="1066.45" cy="1256.5" r="8.45"/>
<circle cx="1066.45" cy="1257.5" r="8.45"/>
<circle cx="1066.45" cy="1258.17" r="8.45"/>
<circle cx="1066.45" cy="1258.84" r="8.45"/>
<circle cx="1066.45" cy="1259.51" r="8.45"/>
<circle cx="1066.45" cy="1260.17" r="8.45"/>
<circle cx="1066.45" cy="1260.84" r="8.45"/>
<circle cx="1066.45" cy="1261.51" r="8.45"/>
<circle cx="1066.45" cy="1262.18" r="8.45"/>
<circle cx="1066.45" cy="1262.85" r="8.45"/>
<circle cx="1066.45" cy="1263.52" r="8.45"/>
<circle cx="1066.45" cy="1264.19" r="8.45"/>
<circle cx="1066.45" cy="1264.86" r="8.45"/>
<circle cx="1066.45" cy="1265.53" r="8.45"/>
<circle cx="1066.45" cy="1266.19" r="8.45"/>
<circle cx="1066.45" cy="1266.86" r="8.45"/>
<circle cx="1066.45" cy="1267.53" r="8.45"/>
<circle cx="1066.45" cy="1268.2" r="8.45"/>
<circle cx="1066.45" cy="1269.2" r="8.45"/>
<circle cx="1066.45" cy="1269.2" r="8.45"/>
<circle cx="1066.45" cy="1269.2" r="8.45"/>
<circle cx="1066.45" cy="1269.2" r="8.45"/>
<circle cx="1066.45" cy="1269.2" r="8.45"/>
<circle cx="1453.95" cy="1256" r="8.45"/>
<circle cx="1453.95" cy="1256" r="8.45"/>
<circle cx="1453.95" cy="1256" r="8.45"/>
<circle cx="1453.95" cy="1256" r="8.45"/>
<circle cx="1453.95" cy="1256" r="8.45"/>
<circle cx="1453.95" cy="1257" r="8.45"/>
<circle cx="1453.95" cy="1257.64" r="8.45"/>
<circle cx="1453.95" cy="1258.29" r="8.45"/>
<circle cx="1453.95" cy="1258.93" r="8.45"/>
<circle cx="1453.95" cy="1259.58" r="8.45"/>
<circle cx="1453.95" cy="1260.22" r="8.45"/>
<circle cx="1453.95" cy="1260.86" r="8.45"/>
<circle cx="1453.95" cy="1261.51" r="8.45"/>
<circle cx="1453.95" cy="1262.15" r="8.45"/>
<circle cx="1453.95" cy="1262.79" r="8.45"/>
<circle cx="1453.95" cy="1263.44" r="8.45"/>
<circle cx="1453.95" cy="1264.08" r="8.45"/>
<circle cx="1453.95" cy="1264.72" r="8.45"/>
<circle cx="1453.95" cy="1265.37" r="8.45"/>
<circle cx="1453.95" cy="1266.01" r="8.45"/>
<circle cx="1453.95" cy="1266.66" r="8.45"/>
<circle cx="1453.95" cy="1267.3" r="8.45"/>
<circle cx="1453.95" cy="1268.3" r="8.45"/>
<circle cx="1453.95" cy="1268.3" r="8.45"/>
<circle cx="1453.95" cy="1268.3" r="8.45"/>
<circle cx="1453.95" cy="1268.3" r="8.45"/>
<circle cx="1453.95" cy="1268.3" r="8.45"/>
</g>
<rect class="bd" x="152" y="691.9" width="1364" height="651.2"/>
</g>
<g clip-path="url(#s1)">
<rect class="sb" x="1516" y="691.9" width="63.7" height="651.2"/>
</g>
<text class="st" text-anchor="middle" transform="translate(1535.7 1017.5) rotate(90) scale(1.02 1.055)">T = 100</text>
<path class="tk" d="M141.4 1316.05H152M141.4 1169.34H152M141.4 1022.62H152M141.4 875.91H152M141.4 729.2H152"/>
<text class="at" text-anchor="end" transform="translate(133.1 741) scale(1.01 1.055)">2.00</text>
<text class="at" text-anchor="end" transform="translate(133.1 887.71) scale(1.01 1.055)">1.75</text>
<text class="at" text-anchor="end" transform="translate(133.1 1034.42) scale(1.01 1.055)">1.50</text>
<text class="at" text-anchor="end" transform="translate(133.1 1181.14) scale(1.01 1.055)">1.25</text>
<text class="at" text-anchor="end" transform="translate(133.1 1327.85) scale(1.01 1.055)">1.00</text>
<g clip-path="url(#c2)">
<path class="mn" d="M152 1914.59H1516M152 1767.88H1516M152 1621.17H1516M152 1474.46H1516M446.45 1363.8V2015M833.95 1363.8V2015M1221.45 1363.8V2015"/>
<path class="mj" d="M152 1987.95H1516M152 1841.24H1516M152 1694.52H1516M152 1547.81H1516M152 1401.1H1516M252.7 1363.8V2015M640.2 1363.8V2015M1027.7 1363.8V2015M1415.2 1363.8V2015"/>
<g class="p">
<path d="M213.95 1966.62l11.37 19.7h-22.74z"/>
<path d="M213.95 1966.62l11.37 19.7h-22.74z"/>
<path d="M213.95 1966.62l11.37 19.7h-22.74z"/>
<path d="M213.95 1966.62l11.37 19.7h-22.74z"/>
<path d="M213.95 1966.62l11.37 19.7h-22.74z"/>
<path d="M213.95 1966.62l11.37 19.7h-22.74z"/>
<path d="M213.95 1966.87l11.37 19.7h-22.74z"/>
<path d="M213.95 1967.01l11.37 19.7h-22.74z"/>
<path d="M213.95 1967.14l11.37 19.7h-22.74z"/>
<path d="M213.95 1967.28l11.37 19.7h-22.74z"/>
<path d="M213.95 1967.42l11.37 19.7h-22.74z"/>
<path d="M213.95 1967.55l11.37 19.7h-22.74z"/>
<path d="M213.95 1967.69l11.37 19.7h-22.74z"/>
<path d="M213.95 1967.82l11.37 19.7h-22.74z"/>
<path d="M213.95 1967.96l11.37 19.7h-22.74z"/>
<path d="M213.95 1968.1l11.37 19.7h-22.74z"/>
<path d="M213.95 1968.23l11.37 19.7h-22.74z"/>
<path d="M213.95 1968.37l11.37 19.7h-22.74z"/>
<path d="M213.95 1969.37l11.37 19.7h-22.74z"/>
<path d="M213.95 1970.04l11.37 19.7h-22.74z"/>
<path d="M213.95 1970.7l11.37 19.7h-22.74z"/>
<path d="M213.95 1971.37l11.37 19.7h-22.74z"/>
<path d="M213.95 1972.07l11.37 19.7h-22.74z"/>
<path d="M213.95 1972.07l11.37 19.7h-22.74z"/>
<path d="M213.95 1972.07l11.37 19.7h-22.74z"/>
<path d="M213.95 1972.07l11.37 19.7h-22.74z"/>
<path d="M213.95 1972.07l11.37 19.7h-22.74z"/>
<path d="M601.45 1965.87l11.37 19.7h-22.74z"/>
<path d="M601.45 1965.87l11.37 19.7h-22.74z"/>
<path d="M601.45 1965.87l11.37 19.7h-22.74z"/>
<path d="M601.45 1965.87l11.37 19.7h-22.74z"/>
<path d="M601.45 1965.87l11.37 19.7h-22.74z"/>
<path d="M601.45 1965.87l11.37 19.7h-22.74z"/>
<path d="M601.45 1966.37l11.37 19.7h-22.74z"/>
<path d="M601.45 1966.61l11.37 19.7h-22.74z"/>
<path d="M601.45 1966.84l11.37 19.7h-22.74z"/>
<path d="M601.45 1967.08l11.37 19.7h-22.74z"/>
<path d="M601.45 1967.31l11.37 19.7h-22.74z"/>
<path d="M601.45 1967.55l11.37 19.7h-22.74z"/>
<path d="M601.45 1967.78l11.37 19.7h-22.74z"/>
<path d="M601.45 1968.02l11.37 19.7h-22.74z"/>
<path d="M601.45 1968.26l11.37 19.7h-22.74z"/>
<path d="M601.45 1968.49l11.37 19.7h-22.74z"/>
<path d="M601.45 1968.73l11.37 19.7h-22.74z"/>
<path d="M601.45 1968.96l11.37 19.7h-22.74z"/>
<path d="M601.45 1969.2l11.37 19.7h-22.74z"/>
<path d="M601.45 1969.43l11.37 19.7h-22.74z"/>
<path d="M601.45 1969.67l11.37 19.7h-22.74z"/>
<path d="M601.45 1970.17l11.37 19.7h-22.74z"/>
<path d="M601.45 1970.17l11.37 19.7h-22.74z"/>
<path d="M601.45 1970.17l11.37 19.7h-22.74z"/>
<path d="M601.45 1970.17l11.37 19.7h-22.74z"/>
<path d="M601.45 1970.17l11.37 19.7h-22.74z"/>
<path d="M601.45 1970.17l11.37 19.7h-22.74z"/>
<path d="M988.95 1380.07l11.37 19.7h-22.74z"/>
<path d="M988.95 1383.97l11.37 19.7h-22.74z"/>
<path d="M988.95 1391.97l11.37 19.7h-22.74z"/>
<path d="M988.95 1642.17l11.37 19.7h-22.74z"/>
<path d="M988.95 1643.87l11.37 19.7h-22.74z"/>
<path d="M988.95 1643.87l11.37 19.7h-22.74z"/>
<path d="M988.95 1648.77l11.37 19.7h-22.74z"/>
<path d="M988.95 1648.77l11.37 19.7h-22.74z"/>
<path d="M988.95 1651.07l11.37 19.7h-22.74z"/>
<path d="M988.95 1686.27l11.37 19.7h-22.74z"/>
<path d="M988.95 1687.17l11.37 19.7h-22.74z"/>
<path d="M988.95 1687.17l11.37 19.7h-22.74z"/>
<path d="M988.95 1691.07l11.37 19.7h-22.74z"/>
<path d="M988.95 1691.07l11.37 19.7h-22.74z"/>
<path d="M988.95 1693.87l11.37 19.7h-22.74z"/>
<path d="M988.95 1851.07l11.37 19.7h-22.74z"/>
<path d="M988.95 1851.07l11.37 19.7h-22.74z"/>
<path d="M988.95 1851.07l11.37 19.7h-22.74z"/>
<path d="M988.95 1873.57l11.37 19.7h-22.74z"/>
<path d="M988.95 1873.57l11.37 19.7h-22.74z"/>
<path d="M988.95 1873.57l11.37 19.7h-22.74z"/>
<path d="M988.95 1873.57l11.37 19.7h-22.74z"/>
<path d="M988.95 1874.77l11.37 19.7h-22.74z"/>
<path d="M988.95 1874.77l11.37 19.7h-22.74z"/>
<path d="M988.95 1893.87l11.37 19.7h-22.74z"/>
<path d="M988.95 1893.87l11.37 19.7h-22.74z"/>
<path d="M988.95 1897.17l11.37 19.7h-22.74z"/>
<path d="M1376.45 1411.77l11.37 19.7h-22.74z"/>
<path d="M1376.45 1420.97l11.37 19.7h-22.74z"/>
<path d="M1376.45 1423.17l11.37 19.7h-22.74z"/>
<path d="M1376.45 1478.52l11.37 19.7h-22.74z"/>
<path d="M1376.45 1483.17l11.37 19.7h-22.74z"/>
<path d="M1376.45 1483.17l11.37 19.7h-22.74z"/>
<path d="M1376.45 1483.17l11.37 19.7h-22.74z"/>
<path d="M1376.45 1485.07l11.37 19.7h-22.74z"/>
<path d="M1376.45 1486.97l11.37 19.7h-22.74z"/>
<path d="M1376.45 1498.17l11.37 19.7h-22.74z"/>
<path d="M1376.45 1746.72l11.37 19.7h-22.74z"/>
<path d="M1376.45 1752.17l11.37 19.7h-22.74z"/>
<path d="M1376.45 1754.82l11.37 19.7h-22.74z"/>
<path d="M1376.45 1760.82l11.37 19.7h-22.74z"/>
<path d="M1376.45 1772.82l11.37 19.7h-22.74z"/>
<path d="M1376.45 1772.82l11.37 19.7h-22.74z"/>
<path d="M1376.45 1779.57l11.37 19.7h-22.74z"/>
<path d="M1376.45 1785.97l11.37 19.7h-22.74z"/>
<path d="M1376.45 1785.97l11.37 19.7h-22.74z"/>
<path d="M1376.45 1803.57l11.37 19.7h-22.74z"/>
<path d="M1376.45 1806.97l11.37 19.7h-22.74z"/>
<path d="M1376.45 1814.07l11.37 19.7h-22.74z"/>
<path d="M1376.45 1836.97l11.37 19.7h-22.74z"/>
<path d="M1376.45 1840.72l11.37 19.7h-22.74z"/>
<path d="M1376.45 1844.47l11.37 19.7h-22.74z"/>
<path d="M1376.45 1847.82l11.37 19.7h-22.74z"/>
<path d="M1376.45 1854.57l11.37 19.7h-22.74z"/>
<path d="M1376.45 1854.57l11.37 19.7h-22.74z"/>
<rect x="244.25" y="1968.9" width="16.9" height="16.9"/>
<rect x="244.25" y="1968.9" width="16.9" height="16.9"/>
<rect x="244.25" y="1968.9" width="16.9" height="16.9"/>
<rect x="244.25" y="1968.9" width="16.9" height="16.9"/>
<rect x="244.25" y="1968.9" width="16.9" height="16.9"/>
<rect x="244.25" y="1969.55" width="16.9" height="16.9"/>
<rect x="244.25" y="1969.8" width="16.9" height="16.9"/>
<rect x="244.25" y="1970.05" width="16.9" height="16.9"/>
<rect x="244.25" y="1970.3" width="16.9" height="16.9"/>
<rect x="244.25" y="1970.55" width="16.9" height="16.9"/>
<rect x="244.25" y="1970.8" width="16.9" height="16.9"/>
<rect x="244.25" y="1971.05" width="16.9" height="16.9"/>
<rect x="244.25" y="1971.3" width="16.9" height="16.9"/>
<rect x="244.25" y="1971.55" width="16.9" height="16.9"/>
<rect x="244.25" y="1971.8" width="16.9" height="16.9"/>
<rect x="244.25" y="1972.05" width="16.9" height="16.9"/>
<rect x="244.25" y="1972.3" width="16.9" height="16.9"/>
<rect x="244.25" y="1972.55" width="16.9" height="16.9"/>
<rect x="244.25" y="1972.8" width="16.9" height="16.9"/>
<rect x="244.25" y="1973.05" width="16.9" height="16.9"/>
<rect x="244.25" y="1973.3" width="16.9" height="16.9"/>
<rect x="244.25" y="1973.55" width="16.9" height="16.9"/>
<rect x="244.25" y="1974.1" width="16.9" height="16.9"/>
<rect x="244.25" y="1974.1" width="16.9" height="16.9"/>
<rect x="244.25" y="1974.1" width="16.9" height="16.9"/>
<rect x="244.25" y="1974.1" width="16.9" height="16.9"/>
<rect x="244.25" y="1974.1" width="16.9" height="16.9"/>
<rect x="631.75" y="1968.9" width="16.9" height="16.9"/>
<rect x="631.75" y="1968.9" width="16.9" height="16.9"/>
<rect x="631.75" y="1968.9" width="16.9" height="16.9"/>
<rect x="631.75" y="1968.9" width="16.9" height="16.9"/>
<rect x="631.75" y="1968.9" width="16.9" height="16.9"/>
<rect x="631.75" y="1968.9" width="16.9" height="16.9"/>
<rect x="631.75" y="1969.55" width="16.9" height="16.9"/>
<rect x="631.75" y="1969.76" width="16.9" height="16.9"/>
<rect x="631.75" y="1969.98" width="16.9" height="16.9"/>
<rect x="631.75" y="1970.19" width="16.9" height="16.9"/>
<rect x="631.75" y="1970.41" width="16.9" height="16.9"/>
<rect x="631.75" y="1970.62" width="16.9" height="16.9"/>
<rect x="631.75" y="1970.84" width="16.9" height="16.9"/>
<rect x="631.75" y="1971.05" width="16.9" height="16.9"/>
<rect x="631.75" y="1971.26" width="16.9" height="16.9"/>
<rect x="631.75" y="1971.48" width="16.9" height="16.9"/>
<rect x="631.75" y="1971.69" width="16.9" height="16.9"/>
<rect x="631.75" y="1971.91" width="16.9" height="16.9"/>
<rect x="631.75" y="1972.12" width="16.9" height="16.9"/>
<rect x="631.75" y="1972.34" width="16.9" height="16.9"/>
<rect x="631.75" y="1972.55" width="16.9" height="16.9"/>
<rect x="631.75" y="1973" width="16.9" height="16.9"/>
<rect x="631.75" y="1973" width="16.9" height="16.9"/>
<rect x="631.75" y="1973" width="16.9" height="16.9"/>
<rect x="631.75" y="1973" width="16.9" height="16.9"/>
<rect x="631.75" y="1973" width="16.9" height="16.9"/>
<rect x="631.75" y="1973" width="16.9" height="16.9"/>
<rect x="1019.25" y="1966.25" width="16.9" height="16.9"/>
<rect x="1019.25" y="1966.25" width="16.9" height="16.9"/>
<rect x="1019.25" y="1966.25" width="16.9" height="16.9"/>
<rect x="1019.25" y="1966.25" width="16.9" height="16.9"/>
<rect x="1019.25" y="1966.25" width="16.9" height="16.9"/>
<rect x="1019.25" y="1966.25" width="16.9" height="16.9"/>
<rect x="1019.25" y="1966.75" width="16.9" height="16.9"/>
<rect x="1019.25" y="1967.04" width="16.9" height="16.9"/>
<rect x="1019.25" y="1967.33" width="16.9" height="16.9"/>
<rect x="1019.25" y="1967.63" width="16.9" height="16.9"/>
<rect x="1019.25" y="1967.92" width="16.9" height="16.9"/>
<rect x="1019.25" y="1968.21" width="16.9" height="16.9"/>
<rect x="1019.25" y="1968.5" width="16.9" height="16.9"/>
<rect x="1019.25" y="1968.8" width="16.9" height="16.9"/>
<rect x="1019.25" y="1969.09" width="16.9" height="16.9"/>
<rect x="1019.25" y="1969.38" width="16.9" height="16.9"/>
<rect x="1019.25" y="1969.67" width="16.9" height="16.9"/>
<rect x="1019.25" y="1969.97" width="16.9" height="16.9"/>
<rect x="1019.25" y="1970.26" width="16.9" height="16.9"/>
<rect x="1019.25" y="1970.55" width="16.9" height="16.9"/>
<rect x="1019.25" y="1971.1" width="16.9" height="16.9"/>
<rect x="1019.25" y="1971.1" width="16.9" height="16.9"/>
<rect x="1019.25" y="1971.1" width="16.9" height="16.9"/>
<rect x="1019.25" y="1971.1" width="16.9" height="16.9"/>
<rect x="1019.25" y="1971.1" width="16.9" height="16.9"/>
<rect x="1019.25" y="1971.1" width="16.9" height="16.9"/>
<rect x="1019.25" y="1974.1" width="16.9" height="16.9"/>
<rect x="1406.75" y="1505.15" width="16.9" height="16.9"/>
<rect x="1406.75" y="1505.15" width="16.9" height="16.9"/>
<rect x="1406.75" y="1516.75" width="16.9" height="16.9"/>
<rect x="1406.75" y="1603.75" width="16.9" height="16.9"/>
<rect x="1406.75" y="1612" width="16.9" height="16.9"/>
<rect x="1406.75" y="1612" width="16.9" height="16.9"/>
<rect x="1406.75" y="1652.85" width="16.9" height="16.9"/>
<rect x="1406.75" y="1657" width="16.9" height="16.9"/>
<rect x="1406.75" y="1666" width="16.9" height="16.9"/>
<rect x="1406.75" y="1790.25" width="16.9" height="16.9"/>
<rect x="1406.75" y="1792.85" width="16.9" height="16.9"/>
<rect x="1406.75" y="1795.85" width="16.9" height="16.9"/>
<rect x="1406.75" y="1839.05" width="16.9" height="16.9"/>
<rect x="1406.75" y="1842.05" width="16.9" height="16.9"/>
<rect x="1406.75" y="1845.75" width="16.9" height="16.9"/>
<rect x="1406.75" y="1858.15" width="16.9" height="16.9"/>
<rect x="1406.75" y="1861.15" width="16.9" height="16.9"/>
<rect x="1406.75" y="1864.9" width="16.9" height="16.9"/>
<rect x="1406.75" y="1868.65" width="16.9" height="16.9"/>
<rect x="1406.75" y="1868.65" width="16.9" height="16.9"/>
<rect x="1406.75" y="1868.65" width="16.9" height="16.9"/>
<rect x="1406.75" y="1901.4" width="16.9" height="16.9"/>
<rect x="1406.75" y="1902.29" width="16.9" height="16.9"/>
<rect x="1406.75" y="1903.18" width="16.9" height="16.9"/>
<rect x="1406.75" y="1904.07" width="16.9" height="16.9"/>
<rect x="1406.75" y="1904.96" width="16.9" height="16.9"/>
<rect x="1406.75" y="1905.85" width="16.9" height="16.9"/>
<circle cx="291.45" cy="1969.45" r="8.45"/>
<circle cx="291.45" cy="1969.45" r="8.45"/>
<circle cx="291.45" cy="1969.45" r="8.45"/>
<circle cx="291.45" cy="1969.45" r="8.45"/>
<circle cx="291.45" cy="1969.45" r="8.45"/>
<circle cx="291.45" cy="1969.45" r="8.45"/>
<circle cx="291.45" cy="1970.5" r="8.45"/>
<circle cx="291.45" cy="1970.81" r="8.45"/>
<circle cx="291.45" cy="1971.11" r="8.45"/>
<circle cx="291.45" cy="1971.42" r="8.45"/>
<circle cx="291.45" cy="1971.73" r="8.45"/>
<circle cx="291.45" cy="1972.04" r="8.45"/>
<circle cx="291.45" cy="1972.34" r="8.45"/>
<circle cx="291.45" cy="1972.65" r="8.45"/>
<circle cx="291.45" cy="1972.96" r="8.45"/>
<circle cx="291.45" cy="1973.26" r="8.45"/>
<circle cx="291.45" cy="1973.57" r="8.45"/>
<circle cx="291.45" cy="1973.88" r="8.45"/>
<circle cx="291.45" cy="1974.19" r="8.45"/>
<circle cx="291.45" cy="1974.49" r="8.45"/>
<circle cx="291.45" cy="1974.8" r="8.45"/>
<circle cx="291.45" cy="1975.8" r="8.45"/>
<circle cx="291.45" cy="1975.8" r="8.45"/>
<circle cx="291.45" cy="1975.8" r="8.45"/>
<circle cx="291.45" cy="1975.8" r="8.45"/>
<circle cx="291.45" cy="1975.8" r="8.45"/>
<circle cx="291.45" cy="1975.8" r="8.45"/>
<circle cx="678.95" cy="1967.55" r="8.45"/>
<circle cx="678.95" cy="1970.2" r="8.45"/>
<circle cx="678.95" cy="1970.2" r="8.45"/>
<circle cx="678.95" cy="1970.2" r="8.45"/>
<circle cx="678.95" cy="1970.2" r="8.45"/>
<circle cx="678.95" cy="1970.2" r="8.45"/>
<circle cx="678.95" cy="1970.2" r="8.45"/>
<circle cx="678.95" cy="1971" r="8.45"/>
<circle cx="678.95" cy="1971.19" r="8.45"/>
<circle cx="678.95" cy="1971.38" r="8.45"/>
<circle cx="678.95" cy="1971.58" r="8.45"/>
<circle cx="678.95" cy="1971.77" r="8.45"/>
<circle cx="678.95" cy="1971.96" r="8.45"/>
<circle cx="678.95" cy="1972.15" r="8.45"/>
<circle cx="678.95" cy="1972.35" r="8.45"/>
<circle cx="678.95" cy="1972.54" r="8.45"/>
<circle cx="678.95" cy="1972.73" r="8.45"/>
<circle cx="678.95" cy="1972.92" r="8.45"/>
<circle cx="678.95" cy="1973.12" r="8.45"/>
<circle cx="678.95" cy="1973.31" r="8.45"/>
<circle cx="678.95" cy="1973.5" r="8.45"/>
<circle cx="678.95" cy="1974.3" r="8.45"/>
<circle cx="678.95" cy="1974.3" r="8.45"/>
<circle cx="678.95" cy="1974.3" r="8.45"/>
<circle cx="678.95" cy="1974.3" r="8.45"/>
<circle cx="678.95" cy="1974.3" r="8.45"/>
<circle cx="678.95" cy="1974.3" r="8.45"/>
<circle cx="1066.45" cy="1967.8" r="8.45"/>
<circle cx="1066.45" cy="1967.8" r="8.45"/>
<circle cx="1066.45" cy="1967.8" r="8.45"/>
<circle cx="1066.45" cy="1967.8" r="8.45"/>
<circle cx="1066.45" cy="1967.8" r="8.45"/>
<circle cx="1066.45" cy="1967.8" r="8.45"/>
<circle cx="1066.45" cy="1968.5" r="8.45"/>
<circle cx="1066.45" cy="1968.77" r="8.45"/>
<circle cx="1066.45" cy="1969.05" r="8.45"/>
<circle cx="1066.45" cy="1969.32" r="8.45"/>
<circle cx="1066.45" cy="1969.59" r="8.45"/>
<circle cx="1066.45" cy="1969.86" r="8.45"/>
<circle cx="1066.45" cy="1970.14" r="8.45"/>
<circle cx="1066.45" cy="1970.41" r="8.45"/>
<circle cx="1066.45" cy="1970.68" r="8.45"/>
<circle cx="1066.45" cy="1970.95" r="8.45"/>
<circle cx="1066.45" cy="1971.23" r="8.45"/>
<circle cx="1066.45" cy="1971.5" r="8.45"/>
<circle cx="1066.45" cy="1972" r="8.45"/>
<circle cx="1066.45" cy="1972" r="8.45"/>
<circle cx="1066.45" cy="1972" r="8.45"/>
<circle cx="1066.45" cy="1972" r="8.45"/>
<circle cx="1066.45" cy="1972" r="8.45"/>
<circle cx="1066.45" cy="1972" r="8.45"/>
<circle cx="1066.45" cy="1975.05" r="8.45"/>
<circle cx="1066.45" cy="1975.05" r="8.45"/>
<circle cx="1066.45" cy="1975.05" r="8.45"/>
<circle cx="1453.95" cy="1969.85" r="8.45"/>
<circle cx="1453.95" cy="1969.85" r="8.45"/>
<circle cx="1453.95" cy="1969.85" r="8.45"/>
<circle cx="1453.95" cy="1969.85" r="8.45"/>
<circle cx="1453.95" cy="1969.85" r="8.45"/>
<circle cx="1453.95" cy="1969.85" r="8.45"/>
<circle cx="1453.95" cy="1970.5" r="8.45"/>
<circle cx="1453.95" cy="1970.81" r="8.45"/>
<circle cx="1453.95" cy="1971.11" r="8.45"/>
<circle cx="1453.95" cy="1971.42" r="8.45"/>
<circle cx="1453.95" cy="1971.73" r="8.45"/>
<circle cx="1453.95" cy="1972.04" r="8.45"/>
<circle cx="1453.95" cy="1972.34" r="8.45"/>
<circle cx="1453.95" cy="1972.65" r="8.45"/>
<circle cx="1453.95" cy="1972.96" r="8.45"/>
<circle cx="1453.95" cy="1973.26" r="8.45"/>
<circle cx="1453.95" cy="1973.57" r="8.45"/>
<circle cx="1453.95" cy="1973.88" r="8.45"/>
<circle cx="1453.95" cy="1974.19" r="8.45"/>
<circle cx="1453.95" cy="1974.49" r="8.45"/>
<circle cx="1453.95" cy="1974.8" r="8.45"/>
<circle cx="1453.95" cy="1975.45" r="8.45"/>
<circle cx="1453.95" cy="1975.45" r="8.45"/>
<circle cx="1453.95" cy="1975.45" r="8.45"/>
<circle cx="1453.95" cy="1975.45" r="8.45"/>
<circle cx="1453.95" cy="1975.45" r="8.45"/>
<circle cx="1453.95" cy="1975.45" r="8.45"/>
</g>
<rect class="bd" x="152" y="1363.8" width="1364" height="651.2"/>
</g>
<g clip-path="url(#s2)">
<rect class="sb" x="1516" y="1363.8" width="63.7" height="651.2"/>
</g>
<text class="st" text-anchor="middle" transform="translate(1535.7 1689.4) rotate(90) scale(1.02 1.055)">T = 500</text>
<path class="tk" d="M141.4 1987.95H152M141.4 1841.24H152M141.4 1694.52H152M141.4 1547.81H152M141.4 1401.1H152"/>
<text class="at" text-anchor="end" transform="translate(133.1 1412.9) scale(1.01 1.055)">2.00</text>
<text class="at" text-anchor="end" transform="translate(133.1 1559.61) scale(1.01 1.055)">1.75</text>
<text class="at" text-anchor="end" transform="translate(133.1 1706.32) scale(1.01 1.055)">1.50</text>
<text class="at" text-anchor="end" transform="translate(133.1 1853.04) scale(1.01 1.055)">1.25</text>
<text class="at" text-anchor="end" transform="translate(133.1 1999.75) scale(1.01 1.055)">1.00</text>
<path class="tk" d="M252.7 2015V2025.6M640.2 2015V2025.6M1027.7 2015V2025.6M1415.2 2015V2025.6"/>
<text class="at" text-anchor="middle" transform="translate(252.9 2056.9) scale(0.975 1.05)">LDV</text>
<text class="at" text-anchor="middle" transform="translate(640.2 2056.9) scale(1.027 0.99)">No interaction</text>
<text class="at" text-anchor="middle" transform="translate(1027.6 2056.9) scale(1.025 0.99)">Restricted</text>
<text class="at" text-anchor="middle" transform="translate(1415.7 2056.9) scale(1.028 0.99)">Full interaction</text>
<text class="ti" text-anchor="middle" x="834.5" y="2103.4">Data<tspan dx="-1.6" dy="-2.7" textLength="27" lengthAdjust="spacingAndGlyphs">-</tspan><tspan dx="-1.6" dy="2.7">generating process</tspan></text>
<text class="ti" text-anchor="middle" transform="translate(49.4 1017.68) rotate(-90) scale(1.0 1.03)">RMSE</text>
</svg></body></html>
